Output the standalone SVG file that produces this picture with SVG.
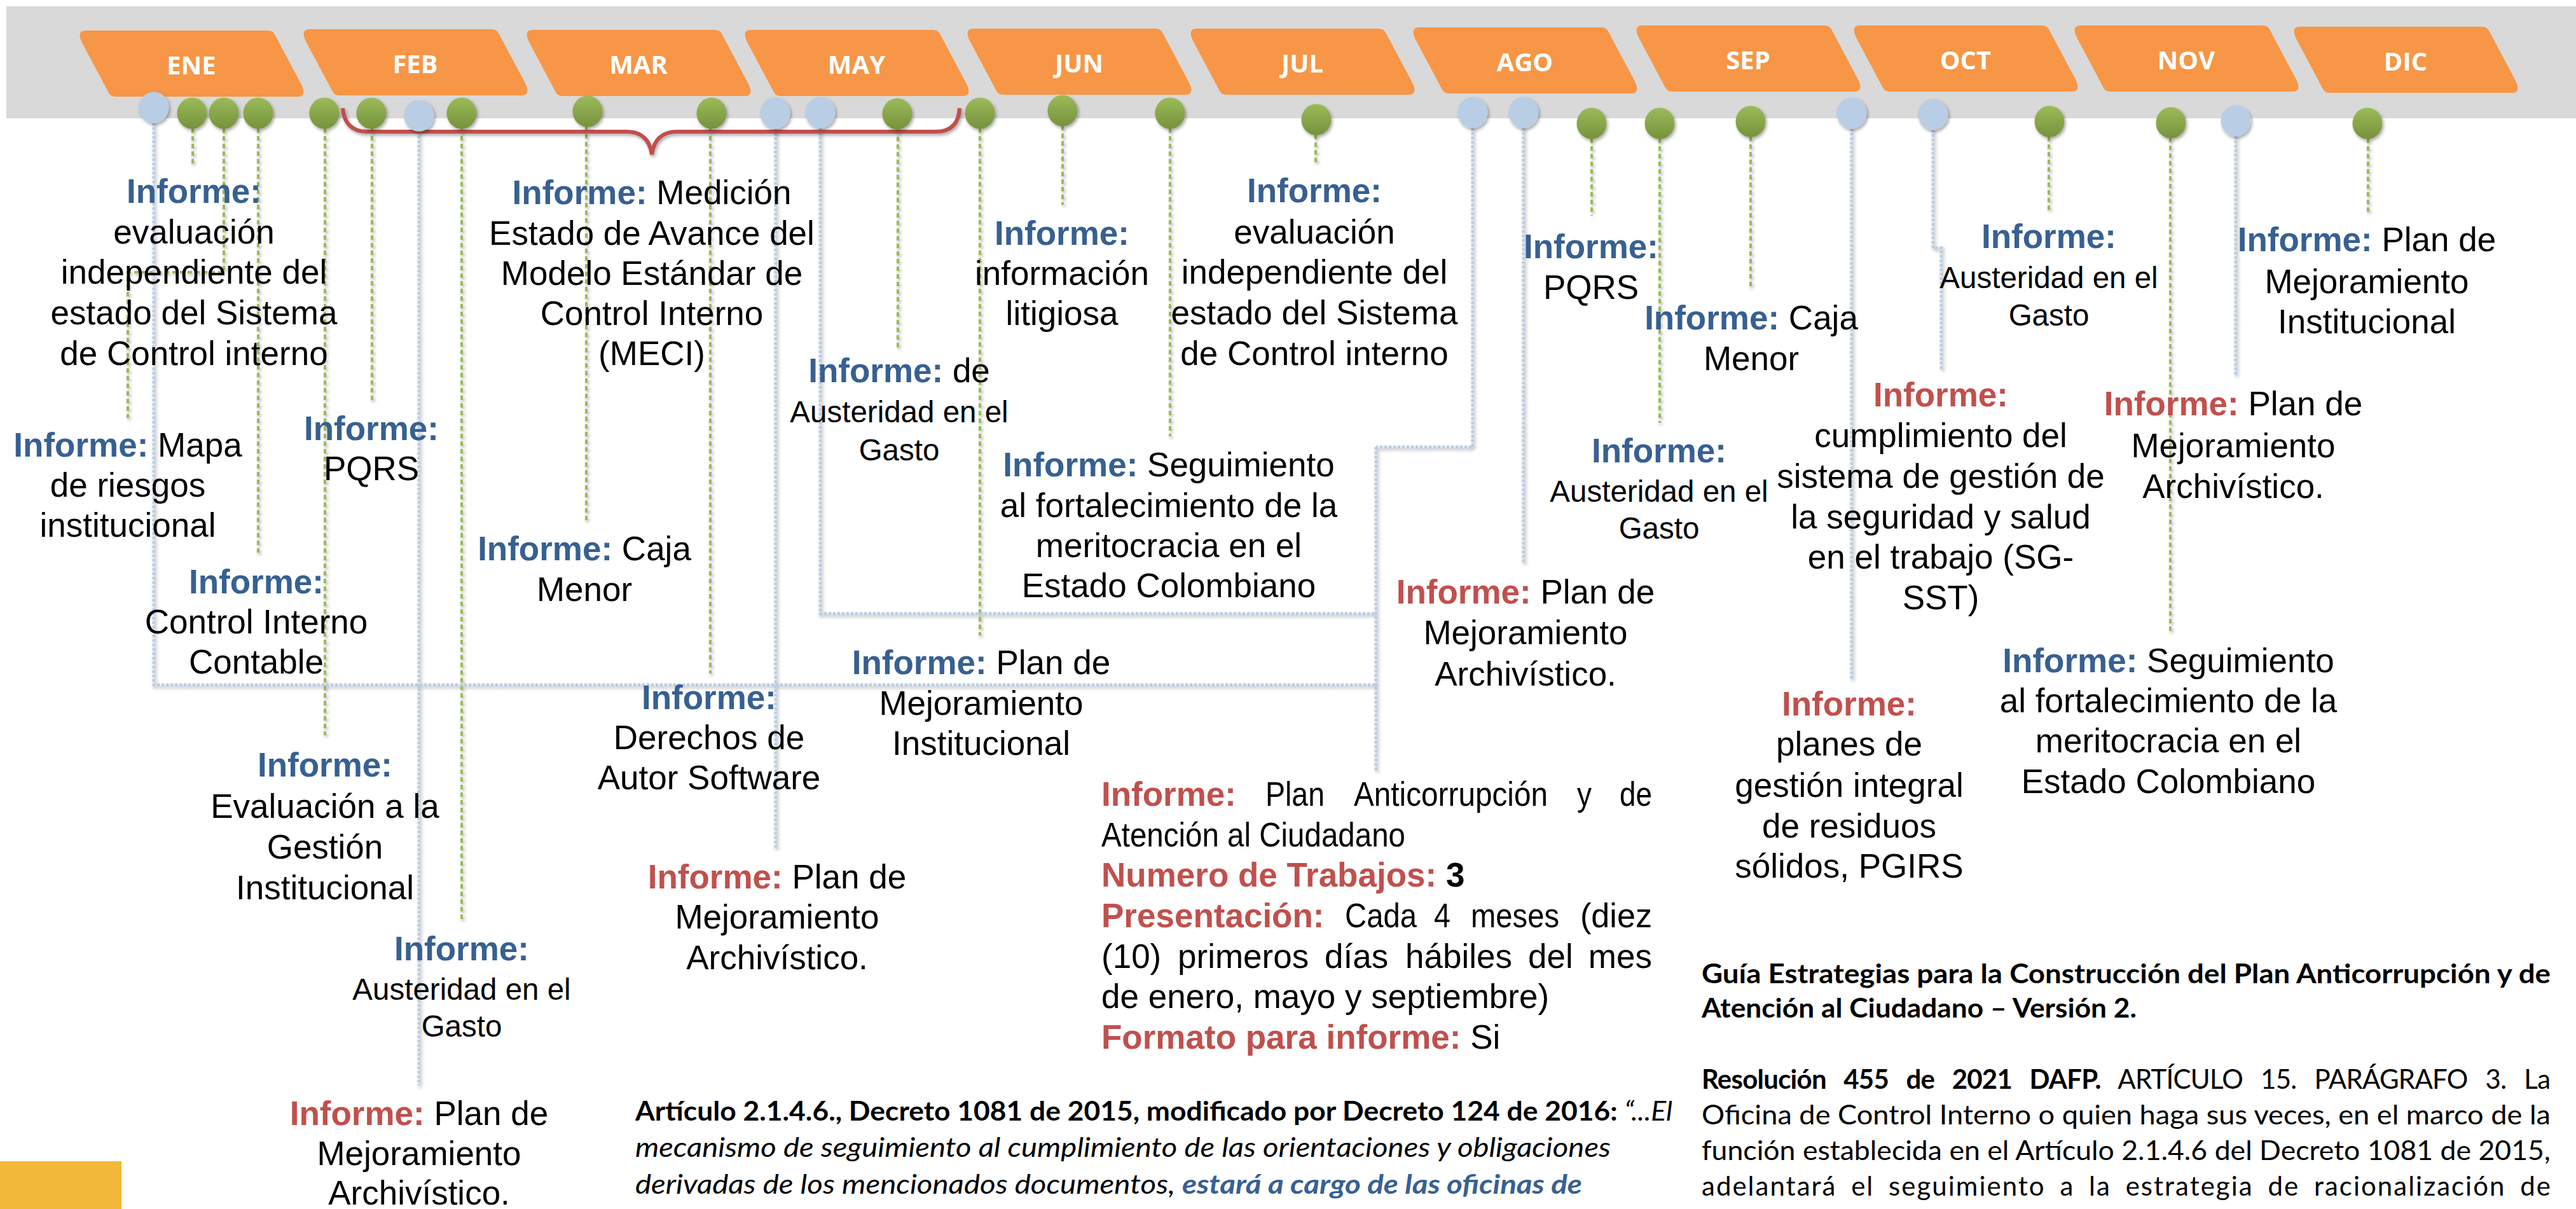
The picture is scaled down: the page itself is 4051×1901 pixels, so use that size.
<svg xmlns="http://www.w3.org/2000/svg" xmlns:xlink="http://www.w3.org/1999/xlink" width="4051" height="1901" viewBox="0 0 4051 1901">
<style>
.t{font-family:"Liberation Sans",Arial,sans-serif;font-size:53px;fill:#000;text-anchor:middle}
.sm{font-size:47.5px}
.ib{font-weight:bold;fill:#376092}
.ir{font-weight:bold;fill:#C0504D}
.mon{font-family:"Open Sans","Liberation Sans",sans-serif;font-weight:700;font-size:40px;fill:#fff;text-anchor:middle}
.gl{fill:none;stroke:#9BBB59;stroke-width:4;stroke-dasharray:7 5}
.bl{fill:none;stroke:#B9CDE5;stroke-width:5;stroke-dasharray:4 3}
.ab{font-family:"Liberation Sans",Arial,sans-serif;font-size:53px;fill:#000}
.cal{font-family:Lato,"Open Sans",sans-serif;font-size:42px;fill:#000}
</style>
<defs>
  <linearGradient id="gg" x1="0" y1="0" x2="0" y2="1">
    <stop offset="0" stop-color="#9BBB59"/>
    <stop offset="1" stop-color="#76923C"/>
  </linearGradient>
  <filter id="ds" x="-20%" y="-20%" width="150%" height="150%">
    <feDropShadow dx="2" dy="3" stdDeviation="2.5" flood-color="#000" flood-opacity="0.35"/>
  </filter>
  <path id="mbox" d="M11,21 Q0,0 16,0 L302,0 Q310,0 313,6 L354,83 Q365,104 349,104 L63,104 Q55,104 52,98 Z" fill="#F79646"/>
  <ellipse id="pb" rx="23.5" ry="24.5" fill="#B9CDE5"/>
  <ellipse id="pg" rx="23.5" ry="24.5" fill="url(#gg)"/>
</defs>

<!-- timeline band -->
<rect x="10" y="10" width="4041" height="176" fill="#D9D9D9"/>

<!-- month tabs -->
<g id="m-ene"><use href="#mbox" x="119" y="48"/><text class="mon" x="301" y="117">ENE</text></g>
<g id="m-feb"><use href="#mbox" x="471" y="46"/><text class="mon" x="653" y="115">FEB</text></g>
<g id="m-mar"><use href="#mbox" x="822" y="47"/><text class="mon" x="1004" y="116">MAR</text></g>
<g id="m-may"><use href="#mbox" x="1165" y="47"/><text class="mon" x="1347" y="116">MAY</text></g>
<g id="m-jun"><use href="#mbox" x="1515" y="45"/><text class="mon" x="1697" y="114">JUN</text></g>
<g id="m-jul"><use href="#mbox" x="1866" y="45"/><text class="mon" x="2048" y="114">JUL</text></g>
<g id="m-ago"><use href="#mbox" x="2216" y="43"/><text class="mon" x="2398" y="112">AGO</text></g>
<g id="m-sep"><use href="#mbox" x="2567" y="40"/><text class="mon" x="2749" y="109">SEP</text></g>
<g id="m-oct"><use href="#mbox" x="2909" y="40"/><text class="mon" x="3091" y="109">OCT</text></g>
<g id="m-nov"><use href="#mbox" x="3256" y="40"/><text class="mon" x="3438" y="109">NOV</text></g>
<g id="m-dic"><use href="#mbox" x="3601" y="42"/><text class="mon" x="3783" y="111">DIC</text></g>

<!-- connectors -->
<g id="connectors" filter="url(#ds)">
  <path class="gl" d="M303,202 V258"/>
  <path class="gl" d="M352,202 V428 H201 V657"/>
  <path class="gl" d="M406,202 V873"/>
  <path class="gl" d="M511,202 V1156"/>
  <path class="gl" d="M585,202 V632"/>
  <path class="gl" d="M726,202 V1446"/>
  <path class="gl" d="M922,199 V821"/>
  <path class="gl" d="M1117,202 V1059"/>
  <path class="gl" d="M1412,203 V546"/>
  <path class="gl" d="M1541,202 V999"/>
  <path class="gl" d="M1671,198 V322"/>
  <path class="gl" d="M1840,202 V686"/>
  <path class="gl" d="M2069,212 V257"/>
  <path class="gl" d="M2503,218 V339"/>
  <path class="gl" d="M2610,218 V665"/>
  <path class="gl" d="M2753,215 V454"/>
  <path class="gl" d="M3222,215 V330"/>
  <path class="gl" d="M3413,217 V996"/>
  <path class="gl" d="M3724,218 V333"/>
  <path class="bl" d="M242,193 V1077 H2164"/>
  <path class="bl" d="M1290,201 V965 H2164"/>
  <path class="bl" d="M2316,201 V703 H2164"/>
  <path class="bl" d="M2164,703 V1212"/>
  <path class="bl" d="M659,207 V1707"/>
  <path class="bl" d="M1220,202 V1336"/>
  <path class="bl" d="M2396,201 V887"/>
  <path class="bl" d="M2912,202 V1067"/>
  <path class="bl" d="M3040,204 V390 H3053 V582"/>
  <path class="bl" d="M3516,214 V591"/>
</g>

<!-- brace over FEB to MAY -->
<g id="brace" filter="url(#ds)">
  <path d="M539,170 Q542,207 578,207 H985 Q1020,207 1025,243 Q1030,207 1065,207 H1472 Q1507,207 1509,170" fill="none" stroke="#C0504D" stroke-width="6"/>
</g>

<!-- milestone pins -->
<g id="pins" filter="url(#ds)">
  <use id="p1" href="#pb" x="242" y="169"/>
  <use id="p2" href="#pg" x="302" y="178"/>
  <use id="p3" href="#pg" x="352" y="178"/>
  <use id="p4" href="#pg" x="406" y="178"/>
  <use id="p5" href="#pg" x="510" y="178"/>
  <use id="p6" href="#pg" x="584" y="178"/>
  <use id="p7" href="#pb" x="659" y="182"/>
  <use id="p8" href="#pg" x="726" y="178"/>
  <use id="p9" href="#pg" x="924" y="175"/>
  <use id="p10" href="#pg" x="1119" y="178"/>
  <use id="p11" href="#pb" x="1219" y="178"/>
  <use id="p12" href="#pb" x="1290" y="177"/>
  <use id="p13" href="#pg" x="1411" y="179"/>
  <use id="p14" href="#pg" x="1541" y="178"/>
  <use id="p15" href="#pg" x="1671" y="174"/>
  <use id="p16" href="#pg" x="1840" y="178"/>
  <use id="p17" href="#pg" x="2070" y="188"/>
  <use id="p18" href="#pb" x="2316" y="177"/>
  <use id="p19" href="#pb" x="2396" y="177"/>
  <use id="p20" href="#pg" x="2503" y="194"/>
  <use id="p21" href="#pg" x="2610" y="194"/>
  <use id="p22" href="#pg" x="2753" y="191"/>
  <use id="p23" href="#pb" x="2912" y="178"/>
  <use id="p24" href="#pb" x="3040" y="180"/>
  <use id="p25" href="#pg" x="3223" y="191"/>
  <use id="p26" href="#pg" x="3414" y="193"/>
  <use id="p27" href="#pb" x="3516" y="190"/>
  <use id="p28" href="#pg" x="3723" y="194"/>
</g>

<!-- report labels -->
<g id="n-ene-evaluacion"><text class="t"><tspan x="305" y="319" class="ib">Informe:</tspan><tspan x="305" y="383">evaluación</tspan><tspan x="305" y="446">independiente del</tspan><tspan x="305" y="510">estado del Sistema</tspan><tspan x="305" y="574">de Control interno</tspan></text></g>
<g id="n-ene-riesgos"><text class="t"><tspan x="201" y="718"><tspan class="ib">Informe:</tspan> Mapa</tspan><tspan x="201" y="781">de riesgos</tspan><tspan x="201" y="844">institucional</tspan></text></g>
<g id="n-feb-pqrs"><text class="t"><tspan x="584" y="692" class="ib">Informe:</tspan><tspan x="584" y="755">PQRS</tspan></text></g>
<g id="n-ene-contable"><text class="t"><tspan x="403" y="933" class="ib">Informe:</tspan><tspan x="403" y="996">Control Interno</tspan><tspan x="403" y="1059">Contable</tspan></text></g>
<g id="n-meci"><text class="t"><tspan x="1025" y="321"><tspan class="ib">Informe:</tspan> Medición</tspan><tspan x="1025" y="385">Estado de Avance del</tspan><tspan x="1025" y="448">Modelo Estándar de</tspan><tspan x="1025" y="511">Control Interno</tspan><tspan x="1025" y="574">(MECI)</tspan></text></g>
<g id="n-mar-caja"><text class="t"><tspan x="919" y="881"><tspan class="ib">Informe:</tspan> Caja</tspan><tspan x="919" y="945">Menor</tspan></text></g>
<g id="n-mar-derechos"><text class="t"><tspan x="1115" y="1115" class="ib">Informe:</tspan><tspan x="1115" y="1178">Derechos de</tspan><tspan x="1115" y="1241">Autor Software</tspan></text></g>
<g id="n-may-plan-inst"><text class="t"><tspan x="1543" y="1060"><tspan class="ib">Informe:</tspan> Plan de</tspan><tspan x="1543" y="1124">Mejoramiento</tspan><tspan x="1543" y="1187">Institucional</tspan></text></g>
<g id="n-may-archivo"><text class="t"><tspan x="1222" y="1397"><tspan class="ir">Informe:</tspan> Plan de</tspan><tspan x="1222" y="1460">Mejoramiento</tspan><tspan x="1222" y="1524">Archivístico.</tspan></text></g>
<g id="n-may-austeridad"><text class="t"><tspan x="1414" y="601"><tspan class="ib">Informe:</tspan> de</tspan><tspan x="1414" y="664" class="sm">Austeridad en el</tspan><tspan x="1414" y="724" class="sm">Gasto</tspan></text></g>
<g id="n-jun-litigiosa"><text class="t"><tspan x="1670" y="385" class="ib">Informe:</tspan><tspan x="1670" y="448">información</tspan><tspan x="1670" y="511">litigiosa</tspan></text></g>
<g id="n-jul-evaluacion"><text class="t"><tspan x="2067" y="318" class="ib">Informe:</tspan><tspan x="2067" y="383">evaluación</tspan><tspan x="2067" y="446">independiente del</tspan><tspan x="2067" y="510">estado del Sistema</tspan><tspan x="2067" y="574">de Control interno</tspan></text></g>
<g id="n-jun-meritocracia"><text class="t"><tspan x="1838" y="749"><tspan class="ib">Informe:</tspan> Seguimiento</tspan><tspan x="1838" y="813">al fortalecimiento de la</tspan><tspan x="1838" y="876">meritocracia en el</tspan><tspan x="1838" y="939">Estado Colombiano</tspan></text></g>
<g id="n-ago-pqrs"><text class="t"><tspan x="2502" y="406" class="ib">Informe:</tspan><tspan x="2502" y="470">PQRS</tspan></text></g>
<g id="n-sep-caja"><text class="t"><tspan x="2754" y="518"><tspan class="ib">Informe:</tspan> Caja</tspan><tspan x="2754" y="582">Menor</tspan></text></g>
<g id="n-sep-austeridad"><text class="t"><tspan x="2609" y="727" class="ib">Informe:</tspan><tspan x="2609" y="789" class="sm">Austeridad en el</tspan><tspan x="2609" y="847" class="sm">Gasto</tspan></text></g>
<g id="n-ago-archivo"><text class="t"><tspan x="2399" y="949"><tspan class="ir">Informe:</tspan> Plan de</tspan><tspan x="2399" y="1013">Mejoramiento</tspan><tspan x="2399" y="1078">Archivístico.</tspan></text></g>
<g id="n-oct-austeridad"><text class="t"><tspan x="3222" y="390" class="ib">Informe:</tspan><tspan x="3222" y="453" class="sm">Austeridad en el</tspan><tspan x="3222" y="512" class="sm">Gasto</tspan></text></g>
<g id="n-oct-sgsst"><text class="t"><tspan x="3052" y="639" class="ir">Informe:</tspan><tspan x="3052" y="703">cumplimiento del</tspan><tspan x="3052" y="767">sistema de gestión de</tspan><tspan x="3052" y="831">la seguridad y salud</tspan><tspan x="3052" y="894">en el trabajo (SG-</tspan><tspan x="3052" y="958">SST)</tspan></text></g>
<g id="n-oct-pgirs"><text class="t"><tspan x="2908" y="1125" class="ir">Informe:</tspan><tspan x="2908" y="1188">planes de</tspan><tspan x="2908" y="1253">gestión integral</tspan><tspan x="2908" y="1317">de residuos</tspan><tspan x="2908" y="1380">sólidos, PGIRS</tspan></text></g>
<g id="n-nov-archivo"><text class="t"><tspan x="3512" y="653"><tspan class="ir">Informe:</tspan> Plan de</tspan><tspan x="3512" y="719">Mejoramiento</tspan><tspan x="3512" y="783">Archivístico.</tspan></text></g>
<g id="n-dic-plan-inst"><text class="t"><tspan x="3722" y="395"><tspan class="ib">Informe:</tspan> Plan de</tspan><tspan x="3722" y="461">Mejoramiento</tspan><tspan x="3722" y="524">Institucional</tspan></text></g>
<g id="n-nov-meritocracia"><text class="t"><tspan x="3410" y="1057"><tspan class="ib">Informe:</tspan> Seguimiento</tspan><tspan x="3410" y="1120">al fortalecimiento de la</tspan><tspan x="3410" y="1183">meritocracia en el</tspan><tspan x="3410" y="1247">Estado Colombiano</tspan></text></g>
<g id="n-feb-gestion"><text class="t"><tspan x="511" y="1221" class="ib">Informe:</tspan><tspan x="511" y="1286">Evaluación a la</tspan><tspan x="511" y="1350">Gestión</tspan><tspan x="511" y="1414">Institucional</tspan></text></g>
<g id="n-feb-austeridad"><text class="t"><tspan x="726" y="1510" class="ib">Informe:</tspan><tspan x="726" y="1572" class="sm">Austeridad en el</tspan><tspan x="726" y="1630" class="sm">Gasto</tspan></text></g>
<g id="n-feb-archivo"><text class="t"><tspan x="659" y="1769"><tspan class="ir">Informe:</tspan> Plan de</tspan><tspan x="659" y="1832">Mejoramiento</tspan><tspan x="659" y="1894">Archivístico.</tspan></text></g>

<!-- anticorruption plan block -->
<g id="n-anticorrupcion" class="ab">
  <text x="1732" y="1267" class="ir">Informe:</text>
  <text x="1990" y="1267" textLength="93" lengthAdjust="spacingAndGlyphs">Plan</text>
  <text x="2129" y="1267" textLength="305" lengthAdjust="spacingAndGlyphs">Anticorrupción</text>
  <text x="2480" y="1267" textLength="23" lengthAdjust="spacingAndGlyphs">y</text>
  <text x="2547" y="1267" textLength="51" lengthAdjust="spacingAndGlyphs">de</text>
  <text x="1732" y="1331" textLength="478" lengthAdjust="spacingAndGlyphs">Atención al Ciudadano</text>
  <text x="1732" y="1394"><tspan class="ir">Numero de Trabajos:</tspan><tspan font-weight="bold"> 3</tspan></text>
  <text x="1732" y="1458" class="ir">Presentación:</text>
  <text x="2115" y="1458" textLength="113" lengthAdjust="spacingAndGlyphs">Cada</text>
  <text x="2255" y="1458" textLength="26" lengthAdjust="spacingAndGlyphs">4</text>
  <text x="2313" y="1458" textLength="139" lengthAdjust="spacingAndGlyphs">meses</text>
  <text x="2485" y="1458" textLength="113" lengthAdjust="spacingAndGlyphs">(diez</text>
  <text x="1732" y="1522">(10)</text>
  <text x="1852" y="1522">primeros</text>
  <text x="2083" y="1522">días</text>
  <text x="2210" y="1522">hábiles</text>
  <text x="2403" y="1522">del</text>
  <text x="2598" y="1522" text-anchor="end">mes</text>
  <text x="1732" y="1585">de enero, mayo y septiembre)</text>
  <text x="1732" y="1649"><tspan class="ir">Formato para informe:</tspan> Si</text>
</g>

<!-- legal references -->
<g id="n-decreto" class="cal">
  <text x="999" y="1762" textLength="1631" lengthAdjust="spacingAndGlyphs"><tspan font-weight="700">Artículo 2.1.4.6., Decreto 1081 de 2015, modificado por Decreto 124 de 2016: </tspan><tspan font-style="italic">“...El</tspan></text>
  <text x="999" y="1819" font-style="italic" textLength="1534" lengthAdjust="spacingAndGlyphs">mecanismo de seguimiento al cumplimiento de las orientaciones y obligaciones</text>
  <text x="999" y="1877" font-style="italic" textLength="1489" lengthAdjust="spacingAndGlyphs">derivadas de los mencionados documentos, <tspan font-weight="700" fill="#376092">estará a cargo de las oficinas de</tspan></text>
</g>
<g id="n-guia" class="cal" font-weight="700">
  <text x="2676" y="1546" textLength="1335" lengthAdjust="spacingAndGlyphs">Guía Estrategias para la Construcción del Plan Anticorrupción y de</text>
  <text x="2676" y="1600" textLength="684" lengthAdjust="spacingAndGlyphs">Atención al Ciudadano – Versión 2.</text>
</g>
<g id="n-resolucion" class="cal">
  <text x="2676" y="1712" word-spacing="18" textLength="1335" lengthAdjust="spacing"><tspan font-weight="700">Resolución 455 de 2021 DAFP.</tspan> ARTÍCULO 15. PARÁGRAFO 3. La</text>
  <text x="2676" y="1768" textLength="1335" lengthAdjust="spacingAndGlyphs">Oficina de Control Interno o quien haga sus veces, en el marco de la</text>
  <text x="2676" y="1824" textLength="1335" lengthAdjust="spacingAndGlyphs">función establecida en el Artículo 2.1.4.6 del Decreto 1081 de 2015,</text>
  <text x="2676" y="1880" word-spacing="10" textLength="1335" lengthAdjust="spacing">adelantará el seguimiento a la estrategia de racionalización de</text>
</g>

<rect id="corner-tab" x="0" y="1826" width="191" height="75" fill="#F2B837"/>
</svg>
